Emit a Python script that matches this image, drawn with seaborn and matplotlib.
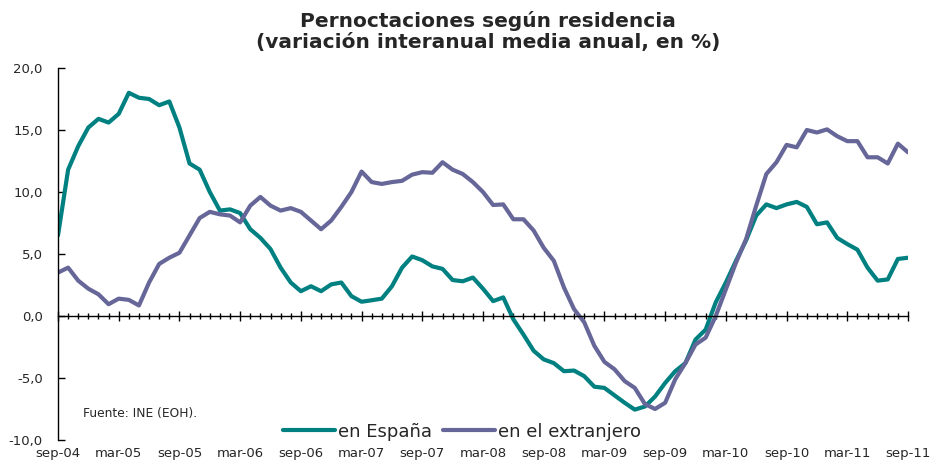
import numpy as np
import pandas as pd
import matplotlib
matplotlib.use("Agg")
import matplotlib.pyplot as plt
import seaborn as sns
from matplotlib.ticker import MultipleLocator, FuncFormatter

# meses sep-04 .. sep-11 (índice mensual)
meses = pd.date_range("2004-09-01", "2011-09-01", freq="MS")

espana = [6.5, 11.8, 13.7, 15.2, 15.9, 15.6, 16.3, 18.0, 17.6, 17.5,
          17.0, 17.3, 15.2, 12.3, 11.8, 10.0, 8.5, 8.6, 8.3, 7.0,
          6.3, 5.4, 3.9, 2.7, 2.0, 2.4, 2.0, 2.55, 2.7, 1.6,
          1.15, 1.27, 1.4, 2.4, 3.9, 4.8, 4.5, 4.0, 3.8, 2.9,
          2.8, 3.1, 2.2, 1.2, 1.5, -0.27, -1.5, -2.8, -3.5, -3.8,
          -4.45, -4.4, -4.85, -5.7, -5.8, -6.4, -7.0, -7.55, -7.3, -6.5,
          -5.4, -4.45, -3.8, -1.9, -1.1, 1.1, 2.7, 4.45, 6.1, 8.1,
          9.0, 8.7, 9.0, 9.2, 8.8, 7.4, 7.55, 6.3, 5.8, 5.35,
          3.9, 2.85, 2.95, 4.6, 4.7]

extranjero = [3.5, 3.9, 2.85, 2.2, 1.75, 0.95, 1.4, 1.3, 0.85, 2.7,
              4.2, 4.7, 5.1, 6.5, 7.9, 8.4, 8.2, 8.1, 7.55, 8.9,
              9.6, 8.9, 8.5, 8.7, 8.4, 7.7, 7.0, 7.7, 8.8, 10.0,
              11.65, 10.8, 10.65, 10.8, 10.9, 11.4, 11.6, 11.55, 12.4, 11.8,
              11.45, 10.8, 10.0, 8.95, 9.0, 7.8, 7.8, 6.9, 5.5, 4.45,
              2.3, 0.55, -0.5, -2.4, -3.7, -4.3, -5.25, -5.8, -7.1, -7.5,
              -7.0, -5.1, -3.8, -2.3, -1.75, 0.0, 2.15, 4.3, 6.2, 8.9,
              11.45, 12.4, 13.8, 13.6, 15.0, 14.8, 15.05, 14.5, 14.1, 14.1,
              12.8, 12.8, 12.3, 13.9, 13.2]

series = ["en España", "en el extranjero"]
colores = ["#008080", "#666699"]

etiquetas_x = ["sep-04", "mar-05", "sep-05", "mar-06", "sep-06", "mar-07",
               "sep-07", "mar-08", "sep-08", "mar-09", "sep-09", "mar-10",
               "sep-10", "mar-11", "sep-11"]

mes_idx = np.arange(len(meses))
df = pd.DataFrame({
    "mes": np.concatenate([mes_idx, mes_idx]),
    "valor": espana + extranjero,
    "serie": [series[0]] * len(espana) + [series[1]] * len(extranjero),
})

sns.set_style("white")
plt.rcParams["font.family"] = ["DejaVu Sans"]

fig = plt.figure(figsize=(9.32, 4.62), dpi=100)
ax = fig.add_axes([58 / 932, 1 - 440 / 462, 850 / 932, 372 / 462])

sns.lineplot(data=df, x="mes", y="valor", hue="serie", hue_order=series,
             palette=colores, linewidth=3.0, ax=ax, legend=True)
for ln in ax.lines:
    ln.set_solid_joinstyle("round")
    ln.set_solid_capstyle("round")

ax.set_xlim(0, 84)
ax.set_ylim(-10, 20)
ax.set_xlabel("")
ax.set_ylabel("")

# eje y
ax.yaxis.set_major_locator(MultipleLocator(5))
ax.yaxis.set_major_formatter(FuncFormatter(lambda v, p: f"{v:.1f}".replace(".", ",")))
ax.tick_params(axis="y", direction="in", length=5, width=1, color="black",
               labelsize=9.5, pad=11, left=True)

# eje x en y=0
for s in ["top", "right"]:
    ax.spines[s].set_visible(False)
ax.spines["left"].set_color("black")
ax.spines["left"].set_linewidth(1)
ax.spines["bottom"].set_position(("data", 0))
ax.spines["bottom"].set_color("black")
ax.spines["bottom"].set_linewidth(1)
ax.xaxis.set_major_locator(MultipleLocator(6))
ax.xaxis.set_minor_locator(MultipleLocator(1))
ax.tick_params(axis="x", which="major", direction="inout", length=7, width=1,
               color="black", labelbottom=False, bottom=True)
ax.tick_params(axis="x", which="minor", direction="inout", length=4, width=1,
               color="black", bottom=True)

# etiquetas del eje x abajo
sec = ax.secondary_xaxis("bottom")
sec.set_xticks(np.arange(0, 85, 6))
sec.set_xticklabels(etiquetas_x)
sec.tick_params(length=0, labelsize=9.5, pad=5)
sec.spines["bottom"].set_visible(False)

# leyenda
handles, labels = ax.get_legend_handles_labels()
ax.legend(handles, labels, loc="center", bbox_to_anchor=(0.475, 0.022),
          ncol=2, frameon=False, fontsize=13, handlelength=2.9,
          handletextpad=0.15, columnspacing=0.6)

ax.text(0.029, 0.07, "Fuente: INE (EOH).", transform=ax.transAxes,
        fontsize=8.8, va="center", ha="left")

fig.text(0.524, 0.977, "Pernoctaciones según residencia\n(variación interanual media anual, en %)",
         ha="center", va="top", fontsize=14.5, fontweight="bold", linespacing=1.15)

fig.savefig("out.png", dpi=100)
